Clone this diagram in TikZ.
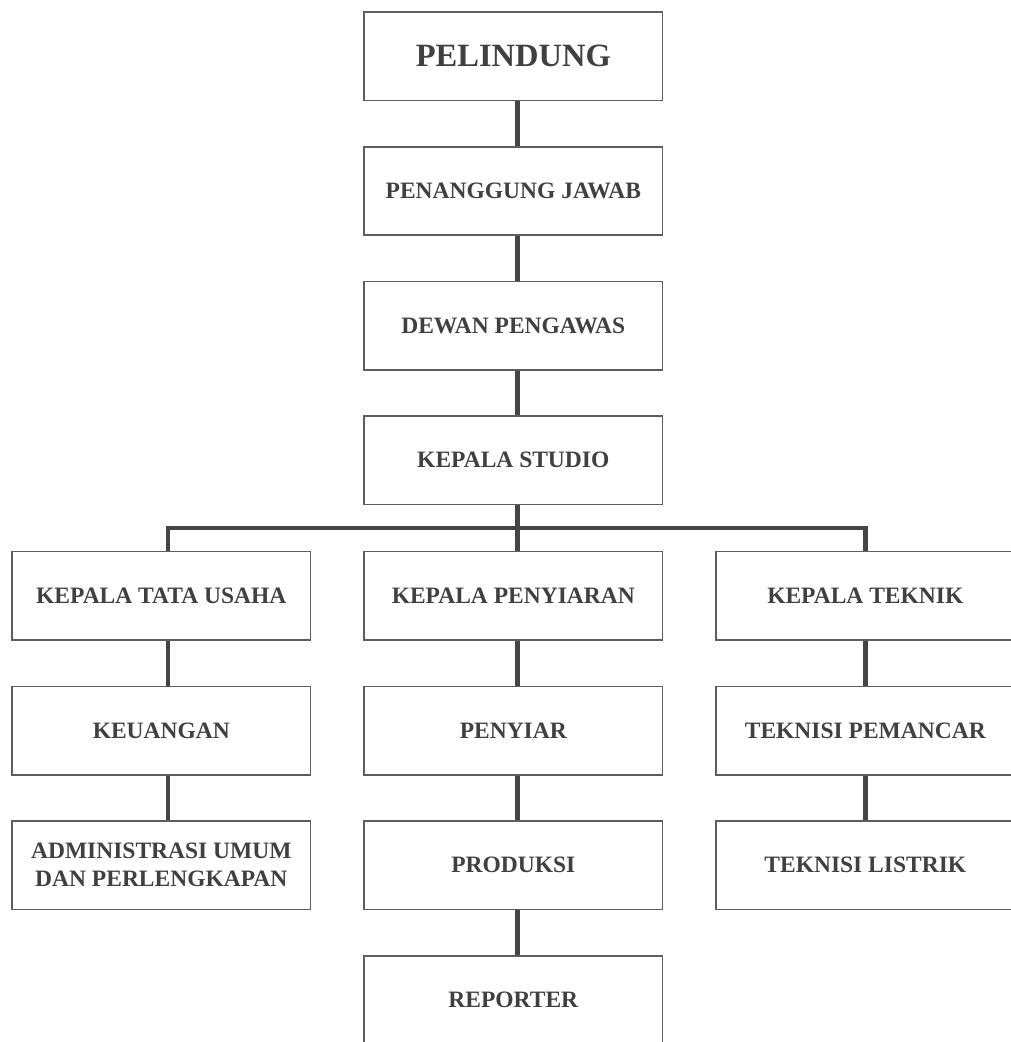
\documentclass[tikz,border=0pt]{standalone}
\usepackage{fontspec}
\setmainfont{Liberation Serif}
\usetikzlibrary{positioning}
\definecolor{boxgray}{HTML}{5E5E5E}
\definecolor{linegray}{HTML}{454545}
\definecolor{txtgray}{HTML}{404040}

\begin{document}
\begin{tikzpicture}[x=1pt, y=1pt, node distance=44.7pt and 52pt,
block/.style = {draw=boxgray, line width=1.6pt, rectangle, minimum height=88.4pt, minimum width=298.4pt,
  align=center, text=txtgray, font=\fontsize{23.5}{28}\selectfont\bfseries, inner sep=0pt},
link/.style = {draw=linegray, line width=4.5pt}]
    \clip (0,0) rectangle (1011,-1042);
    \node [block, font=\fontsize{32.5}{38}\selectfont\bfseries] at (513.3,-56.2) (pel) {PELINDUNG};
    \node [block, below=of pel]      (pj)   {PENANGGUNG JAWAB};
    \node [block, below=of pj]       (dp)   {DEWAN PENGAWAS};
    \node [block, below=of dp]       (ks)   {KEPALA STUDIO};
    \node [block, below=45.5pt of ks] (kp)  {KEPALA PENYIARAN};
    \node [block, left=of kp]        (ktu)  {KEPALA TATA USAHA};
    \node [block, right=of kp]       (kt)   {KEPALA TEKNIK};
    \node [block, below=of ktu]      (keu)  {KEUANGAN};
    \node [block, below=of kp]       (py)   {PENYIAR};
    \node [block, below=of kt]       (tp)   {TEKNISI PEMANCAR};
    \node [block, below=of keu]      (adm)  {ADMINISTRASI UMUM\\DAN PERLENGKAPAN};
    \node [block, below=of py]       (prd)  {PRODUKSI};
    \node [block, below=of tp]       (tl)   {TEKNISI LISTRIK};
    \node [block, below=of prd]      (rep)  {REPORTER};
    % middle column
    \path[link] ([xshift=4.2pt]pel.south) edge ([xshift=4.2pt]pj.north)
                ([xshift=4.2pt]pj.south)  edge ([xshift=4.2pt]dp.north)
                ([xshift=4.2pt]dp.south)  edge ([xshift=4.2pt]ks.north)
                ([xshift=4.2pt]ks.south)  edge ([xshift=4.2pt]kp.north)
                ([xshift=4.2pt]kp.south)  edge ([xshift=4.2pt]py.north)
                ([xshift=4.2pt]py.south)  edge ([xshift=4.2pt]prd.north)
                ([xshift=4.2pt]prd.south) edge ([xshift=4.2pt]rep.north)
                ;
    % left and right columns
    \path[link] ([xshift=6.5pt]ktu.south) edge ([xshift=6.5pt]keu.north)
                ([xshift=6.5pt]keu.south) edge ([xshift=6.5pt]adm.north)
                (kt)    edge (tp)
                (tp)    edge (tl)
                ;
    \draw[link] ([xshift=4.2pt]ks.south) -- ++(0,-22.5) -| ([xshift=6.5pt]ktu.north);
    \draw[link] ([xshift=4.2pt]ks.south) -- ++(0,-22.5) -| (kt.north);
\end{tikzpicture}
\end{document}
